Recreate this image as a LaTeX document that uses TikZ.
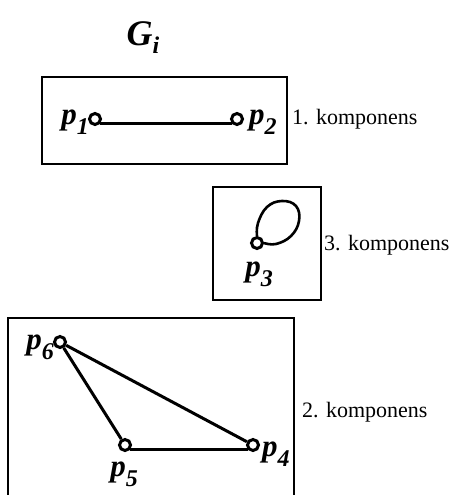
\documentclass[tikz,border=0pt]{standalone}
\usepackage{fontspec}
\setmainfont{Liberation Serif}
\newcommand{\plab}[1]{{\fontsize{31}{31}\selectfont\bfseries\itshape p\raisebox{-0.33em}{\fontsize{24}{24}\selectfont #1}}}
\begin{document}
\begin{tikzpicture}[x=1pt,y=-1pt,
  vtx/.style={circle,draw,line width=3pt,minimum size=11pt,inner sep=0pt},
  frame/.style={draw,line width=2.2pt},
  edge/.style={line width=3pt},
  comp/.style={anchor=west,font=\fontsize{22}{22}\selectfont,inner sep=0pt},
  lab/.style={inner sep=0pt}]
\useasboundingbox (0,0) rectangle (453,495);
% title
\node[anchor=base,inner sep=0pt] (title) at (143,46) {\fontsize{36}{36}\selectfont\bfseries\itshape G\raisebox{-0.22em}{\fontsize{24}{24}\selectfont i}};
% component 1
\draw[frame] (42,77) rectangle (287,164);
\node[vtx] (p1) at (95,119) {};
\node[vtx] (p2) at (237,119) {};
\draw[edge] (p1.south east) -- (p2.south west);
\node[lab,anchor=base east] (l1) at (89,124) {\plab{1}};
\node[lab,anchor=base west] (l2) at (249,124) {\plab{2}};
\node[comp] (c1) at (292,119) {1. komponens};
% component 3
\draw[frame] (213,187) rectangle (321,300);
\node[vtx] (p3) at (257,243) {};
\draw[line width=2.6pt] plot[smooth,tension=0.7] coordinates {(p3.north) (258,223) (267,207) (282,201) (296,206) (299,221) (291,236) (276,244) (p3.east)};
\node[lab,anchor=base] (l3) at (259,276) {\plab{3}};
\node[comp] (c3) at (324,245) {3. komponens};
% component 2
\draw[frame] (8,500) -- (8,318) -- (294,318) -- (294,500);
\node[vtx] (p6) at (60,342) {};
\node[vtx] (p5) at (125,445) {};
\node[vtx] (p4) at (253,445) {};
\draw[edge] (p6) -- (p5);
\draw[edge] (p6) -- (p4);
\draw[edge] (p5.south east) -- (p4.south west);
\node[lab,anchor=base east] (l6) at (54,349) {\plab{6}};
\node[lab,anchor=base] (l5) at (124,476) {\plab{5}};
\node[lab,anchor=base west] (l4) at (262,456) {\plab{4}};
\node[comp] (c2) at (302,412) {2. komponens};
\end{tikzpicture}
\end{document}
